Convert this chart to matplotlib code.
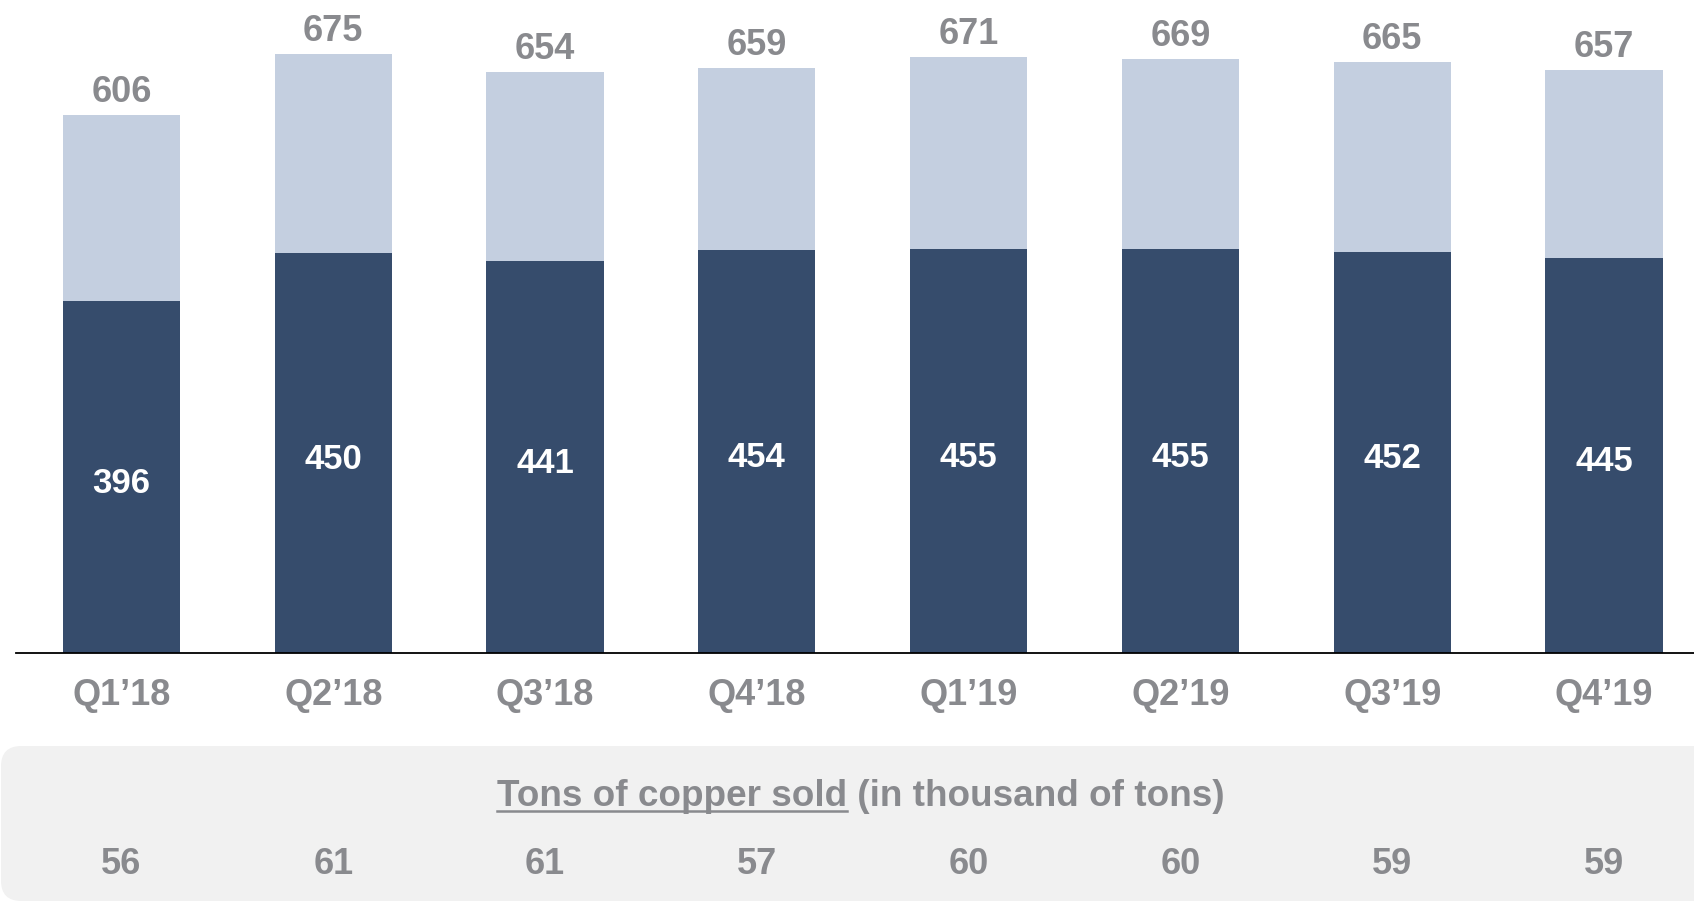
import matplotlib
matplotlib.use("Agg")
import matplotlib.pyplot as plt
from matplotlib.patches import FancyBboxPatch
from matplotlib.lines import Line2D

plt.rcParams['font.family'] = ['Liberation Sans', 'DejaVu Sans']

quarters = ["Q1\u201918", "Q2\u201918", "Q3\u201918", "Q4\u201918",
            "Q1\u201919", "Q2\u201919", "Q3\u201919", "Q4\u201919"]
base_values = [396, 450, 441, 454, 455, 455, 452, 445]
total_values = [606, 675, 654, 659, 671, 669, 665, 657]
copper_sold = [56, 61, 61, 57, 60, 60, 59, 59]

DARK = "#364c6c"
LIGHT = "#c4cfe0"
GRAY = "#898a8e"
BOX = "#f1f1f1"

W, H = 1694, 902
fig = plt.figure(figsize=(W / 100, H / 100), dpi=100)

# bottom grey box (figure pixel coords)
box = FancyBboxPatch((1 / W, (H - 901) / H), (W + 40) / W, (901 - 746) / H,
                     boxstyle="round,pad=0,rounding_size=0.012",
                     transform=fig.transFigure, facecolor=BOX, edgecolor="none",
                     mutation_aspect=W / H, zorder=-5)
fig.patches.append(box)

base_px = 653
ax = fig.add_axes([16 / W, (H - base_px) / H, (W - 16) / W, base_px / H])
ax.set_zorder(1)
ax.set_xlim(-0.498, 7.425)
ax.set_ylim(0, base_px / 0.888)
ax.set_facecolor("none")
ax.patch.set_visible(False)
for s in ax.spines.values():
    s.set_visible(False)
ax.set_xticks([])
ax.set_yticks([])
ax.axhline(0, color="black", lw=1.3, zorder=3, clip_on=False)

x = list(range(len(quarters)))
tops = [t - b for t, b in zip(total_values, base_values)]
ax.bar(x, base_values, width=0.553, color=DARK, edgecolor="none", zorder=2)
ax.bar(x, tops, bottom=base_values, width=0.553, color=LIGHT, edgecolor="none", zorder=2)

for xi, b, t, q in zip(x, base_values, total_values, quarters):
    ax.annotate(str(t), (xi, t), xytext=(0, 9.4), textcoords="offset points",
                ha="center", va="baseline", fontsize=26, fontweight="bold", color=GRAY)
    ax.annotate(str(b), (xi, b / 2), xytext=(0, -11.2), textcoords="offset points",
                ha="center", va="baseline", fontsize=25, fontweight="bold", color="white")
    ax.annotate(q, (xi, 0), xytext=(0, -37.4), textcoords="offset points",
                ha="center", va="baseline", fontsize=26, fontweight="bold", color=GRAY,
                annotation_clip=False)

for xi, c in zip(x, copper_sold):
    ax.annotate(str(c), (xi, 0), xytext=(0, -(874 - base_px) * 0.72), textcoords="offset points",
                ha="center", va="baseline", fontsize=26, fontweight="bold", color=GRAY,
                annotation_clip=False)

# title of the bottom table with underlined part
part1 = "Tons of copper sold"
part2 = " (in thousand of tons)"
fs = 26.6
title_baseline = (H - 806) / H
t1 = fig.text(497 / W, title_baseline, part1, ha="left", va="baseline",
              fontsize=fs, fontweight="bold", color=GRAY)
fig.canvas.draw()
r = fig.canvas.get_renderer()
bb = t1.get_window_extent(r)
fig.text(bb.x1 / W, title_baseline, part2, ha="left", va="baseline",
         fontsize=fs, fontweight="bold", color=GRAY)
uy = (H - 811) / H
fig.add_artist(Line2D([bb.x0 / W, bb.x1 / W], [uy, uy], transform=fig.transFigure,
                      color=GRAY, lw=1.8))

fig.savefig("out.png", dpi=100)
